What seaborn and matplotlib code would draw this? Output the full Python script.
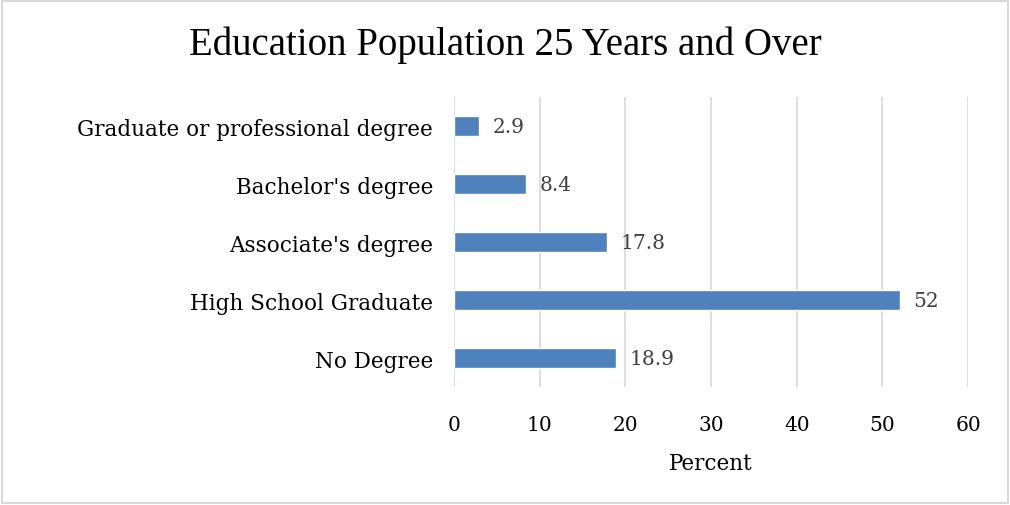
import matplotlib
matplotlib.use("Agg")
import matplotlib.pyplot as plt
import seaborn as sns
import pandas as pd
from matplotlib.patches import Rectangle

categories = ["Graduate or professional degree", "Bachelor's degree",
              "Associate's degree", "High School Graduate", "No Degree"]
values = [2.9, 8.4, 17.8, 52, 18.9]
value_labels = ["2.9", "8.4", "17.8", "52", "18.9"]
xticks = [0, 10, 20, 30, 40, 50, 60]

sns.set_theme(style="white")
plt.rcParams['font.family'] = ['DejaVu Serif']

df = pd.DataFrame({"category": categories, "value": values})

fig = plt.figure(figsize=(10.1, 5.06), dpi=100)
ax = fig.add_axes([0.4495, 0.2332, 0.509, 0.5731])

sns.barplot(data=df, y="category", x="value", orient="h", color="#4F81BD",
            saturation=1, width=0.36, ax=ax)

ax.set_xlim(0, 60)
ax.set_xticks(xticks)
ax.set_xticklabels([str(t) for t in xticks], fontsize=14.5, color="#000000")
ax.tick_params(axis="y", labelsize=15.5, colors="#000000", length=0, pad=15)
ax.tick_params(axis="x", length=0, pad=20)
ax.set_ylabel("")
ax.set_xlabel("Percent", fontsize=15.5, color="#000000", labelpad=13)
ax.grid(axis="x", color="#D9D9D9", linewidth=1.2)
ax.set_axisbelow(True)
for s in ax.spines.values():
    s.set_visible(False)

for i, (v, lab) in enumerate(zip(values, value_labels)):
    ax.annotate(lab, xy=(v, i), xytext=(10, 0), textcoords="offset points",
                va="center", ha="left", fontsize=14.5, color="#404040")

fig.text(0.5, 0.91, "Education Population 25 Years and Over", ha="center",
         va="center", fontsize=28, color="#000000", family="Liberation Serif")

fig.patches.append(Rectangle((0.002, 0.003), 0.996, 0.994, transform=fig.transFigure,
                             fill=False, edgecolor="#D9D9D9", linewidth=1.5))

fig.savefig("out.png", dpi=100)
